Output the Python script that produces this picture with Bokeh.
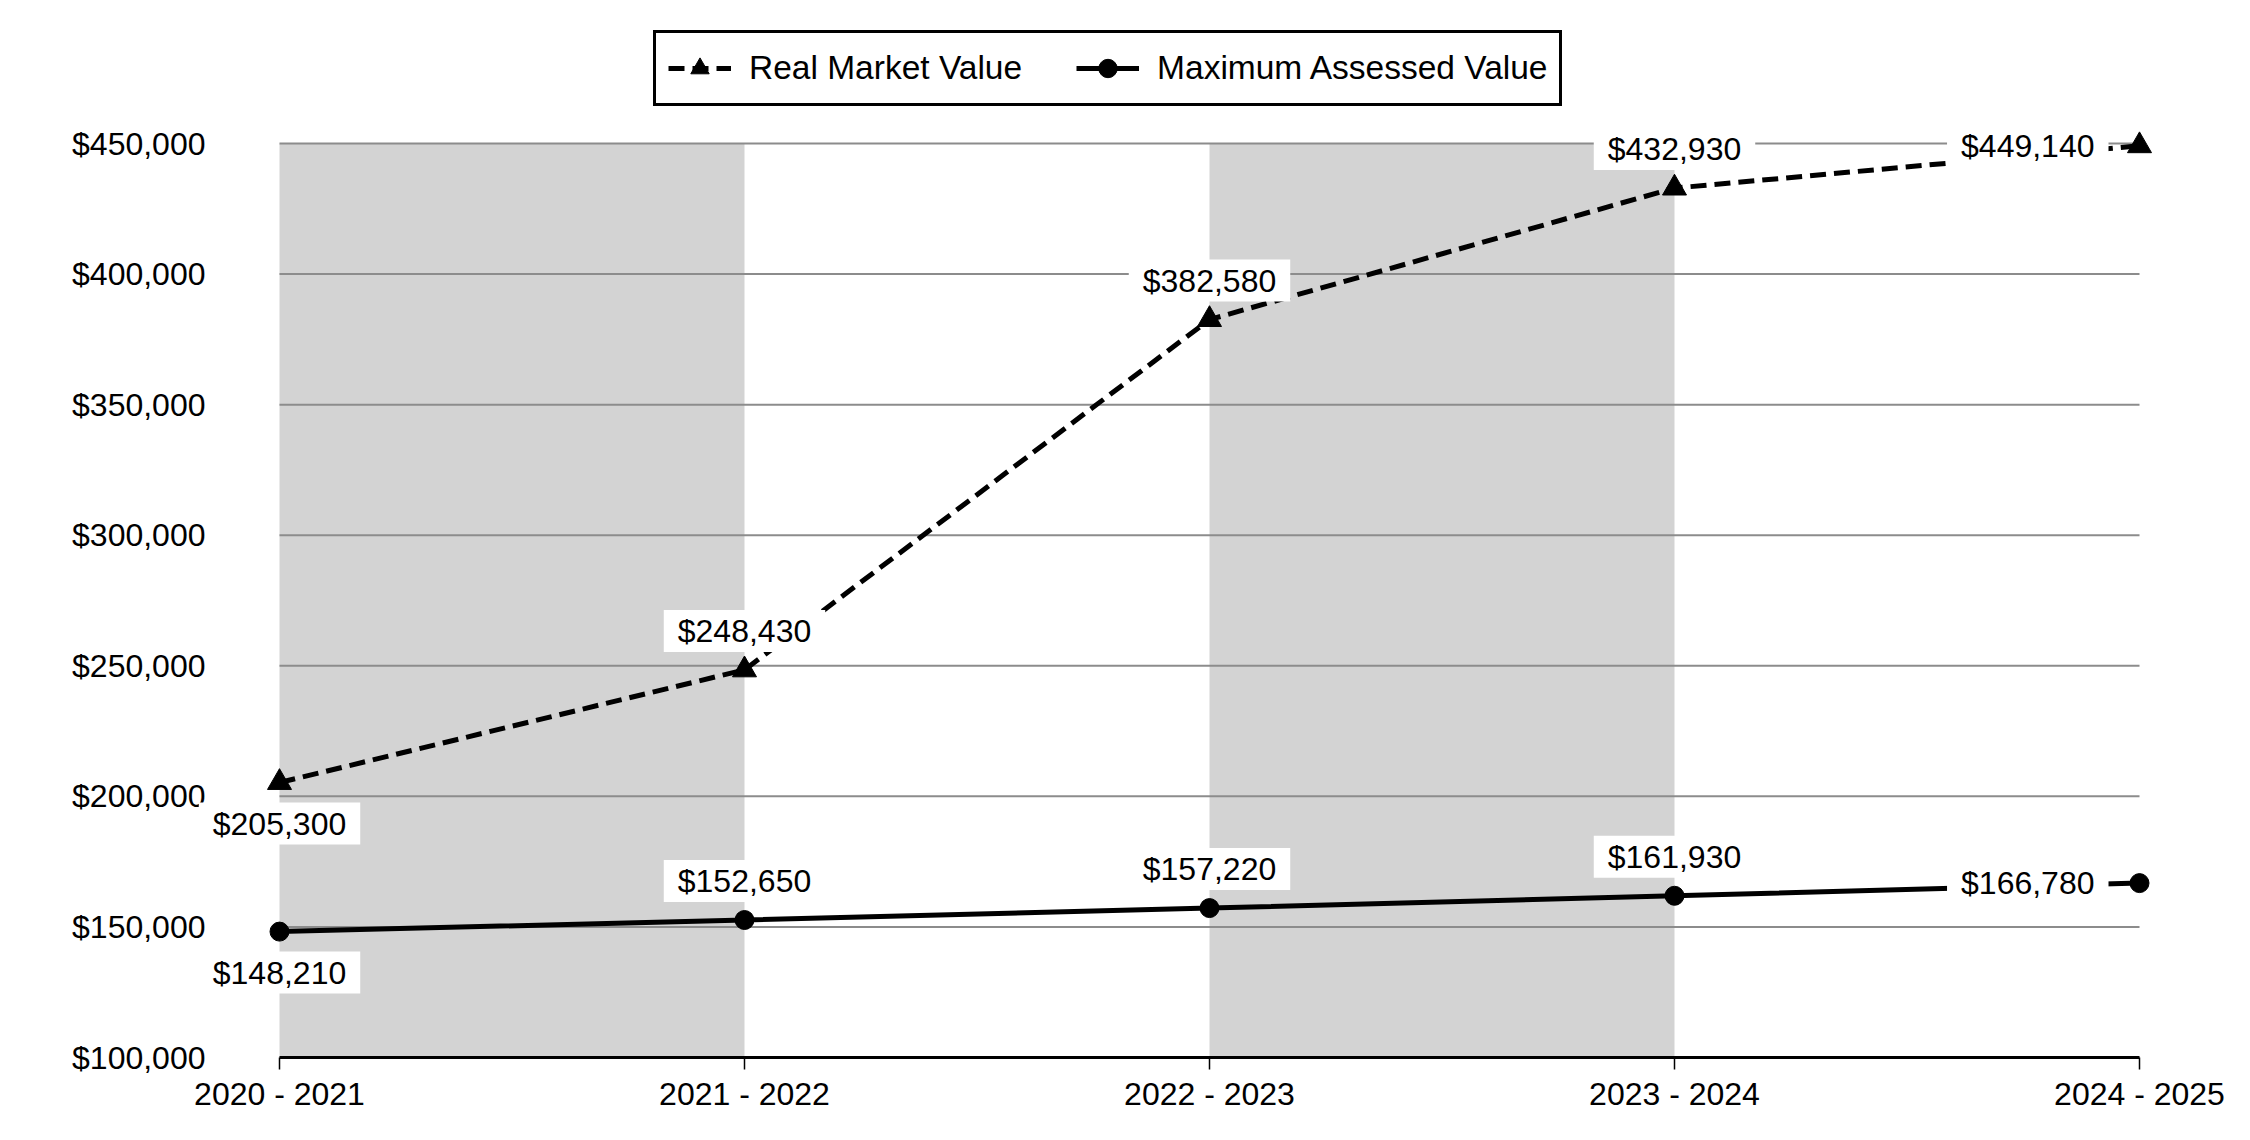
from bokeh.plotting import figure
from bokeh.models import Range1d, FixedTicker, NumeralTickFormatter, Legend, LegendItem, Label
from bokeh.embed import file_html
from bokeh.resources import INLINE

years = ["2020 - 2021", "2021 - 2022", "2022 - 2023", "2023 - 2024", "2024 - 2025"]
real_market = [205300, 248430, 382580, 432930, 449140]
max_assessed = [148210, 152650, 157220, 161930, 166780]
y_ticks = [100000, 150000, 200000, 250000, 300000, 350000, 400000, 450000]

FONT = "Liberation Sans"
FS = "32px"
xs = list(range(len(years)))

# layout (pixels)
W, H = 2234, 1124
FL, FR, FT, FB = 190, 2175, 30, 1057       # frame edges
PX0, PX1 = 279, 2139                        # first / last category
PYT = 143                                   # top tick pixel

ux = (PX1 - PX0) / (xs[-1] - xs[0])
x_start = xs[0] - (PX0 - FL) / ux
x_end = xs[-1] + (FR - PX1) / ux
uy = (FB - PYT) / (y_ticks[-1] - y_ticks[0])
y_end = y_ticks[-1] + (PYT - FT) / uy

p = figure(width=W, height=H, output_backend="svg", toolbar_location=None,
           x_range=Range1d(x_start, x_end), y_range=Range1d(y_ticks[0], y_end),
           min_border_left=FL, min_border_right=W - FR, min_border_top=FT, min_border_bottom=H - FB)
p.outline_line_color = None
p.background_fill_color = "white"
p.border_fill_color = "white"

# shaded alternate bands
band_left = xs[0:-1:2]
p.quad(left=band_left, right=[b + 1 for b in band_left], bottom=y_ticks[0], top=y_ticks[-1],
       fill_color="#d3d3d3", line_color=None, level="image")

# horizontal grid lines (only across the data span)
p.xgrid.visible = False
p.ygrid.visible = False
p.segment(x0=xs[0], x1=xs[-1], y0=y_ticks[1:], y1=y_ticks[1:],
          line_color="#8c8c8c", line_width=2, level="underlay")

# y axis
p.yaxis.ticker = FixedTicker(ticks=y_ticks)
p.yaxis.formatter = NumeralTickFormatter(format="$0,0")
p.yaxis.axis_line_color = None
p.yaxis.major_tick_line_color = None
p.yaxis.minor_tick_line_color = None
p.yaxis.major_tick_out = 0
p.yaxis.major_tick_in = 0
p.yaxis.major_label_standoff = -(205 - FL)
p.yaxis.major_label_text_font = FONT
p.yaxis.major_label_text_font_size = FS
p.yaxis.major_label_text_color = "black"

# x axis
p.xaxis.ticker = FixedTicker(ticks=xs)
p.xaxis.bounds = (xs[0], xs[-1])
p.xaxis.major_label_overrides = {i: years[i] for i in xs}
p.xaxis.axis_line_color = "black"
p.xaxis.axis_line_width = 3
p.xaxis.major_tick_out = 12
p.xaxis.major_tick_in = 0
p.xaxis.major_tick_line_width = 1.5
p.xaxis.major_tick_line_color = "black"
p.xaxis.minor_tick_line_color = None
p.xaxis.major_label_standoff = 6
p.xaxis.major_label_text_font = FONT
p.xaxis.major_label_text_font_size = FS
p.xaxis.major_label_text_color = "black"

# series
r1 = p.line(xs, real_market, line_color="black", line_width=5, line_dash="16 8")
s1 = p.scatter(xs, real_market, marker="triangle", size=24, color="black")
r2 = p.line(xs, max_assessed, line_color="black", line_width=5)
s2 = p.scatter(xs, max_assessed, marker="circle", size=19, color="black")

# value labels
def add_labels(vals):
    n = len(vals)
    for i, (x, v) in enumerate(zip(xs, vals)):
        if i == n - 1:
            kw = dict(text_align="right", x_offset=-31, y_offset=0)
        elif i == 0:
            kw = dict(text_align="center", x_offset=0, y_offset=-41)
        else:
            kw = dict(text_align="center", x_offset=0, y_offset=39)
        p.add_layout(Label(x=x, y=v, text=f"${v:,}", text_baseline="middle",
                           text_font=FONT, text_font_size=FS, text_color="black",
                           background_fill_color="white", background_fill_alpha=1.0,
                           padding=(14, 3), **kw))

add_labels(real_market)
add_labels(max_assessed)

legend = Legend(items=[LegendItem(label="Real Market Value", renderers=[r1, s1]),
                       LegendItem(label="Maximum Assessed Value", renderers=[r2, s2])],
                orientation="horizontal", location=(653 - FL, FB - 106), margin=0,
                padding=12, spacing=54, label_standoff=18,
                glyph_width=63, glyph_height=46,
                label_text_font=FONT, label_text_font_size="33.5px", label_text_color="black",
                border_line_color="black", border_line_width=3, border_line_alpha=1.0,
                background_fill_color="white", background_fill_alpha=1.0)
p.add_layout(legend)

open("out.html", "w").write(file_html(p, INLINE))
